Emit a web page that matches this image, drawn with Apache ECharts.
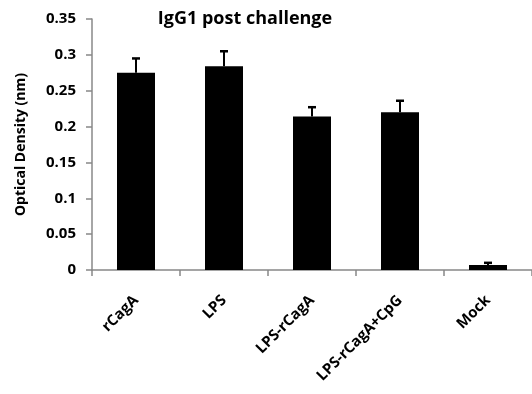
<!DOCTYPE html>
<html><head><meta charset="utf-8">
<script src="https://cdn.jsdelivr.net/npm/echarts@6/dist/echarts.min.js"></script>
<style>html,body{margin:0;padding:0;background:#fff}#c{width:532px;height:394px}</style>
</head><body><div id="c"></div>
<script>
var categories = ['rCagA', 'LPS', 'LPS-rCagA', 'LPS-rCagA+CpG', 'Mock'];
var values = [0.275, 0.284, 0.214, 0.220, 0.007];
var errorTops = [0.295, 0.305, 0.227, 0.236, 0.010];
var yTicks = [0, 0.05, 0.1, 0.15, 0.2, 0.25, 0.3, 0.35];

var chart = echarts.init(document.getElementById('c'));
var fontFam = '"Open Sans", "Liberation Sans", sans-serif';
chart.setOption({
  animation: false,
  title: {
    text: 'IgG1 post challenge', left: 240, top: 5, textAlign: 'center',
    textStyle: {fontFamily: fontFam, fontWeight: 'bold', fontSize: 18, color: '#000'}
  },
  grid: {left: 92, right: -3, top: 19, bottom: 124, containLabel: false},
  xAxis: {
    type: 'category', data: categories,
    axisLine: {lineStyle: {color: '#888', width: 1.5}},
    axisTick: {show: true, length: 6, lineStyle: {color: '#888', width: 1.5}},
    axisLabel: {rotate: 45, margin: 28, fontFamily: fontFam, fontSize: 15, color: '#000', fontWeight: 'bold'}
  },
  yAxis: {
    type: 'value', min: 0, max: 0.35, interval: 0.05,
    name: 'Optical Density (nm)', nameLocation: 'middle', nameGap: 64,
    nameTextStyle: {fontFamily: fontFam, fontWeight: 'bold', fontSize: 14, color: '#000'},
    axisLine: {show: true, lineStyle: {color: '#888', width: 1.5}},
    axisTick: {show: true, length: 6, lineStyle: {color: '#888', width: 1.5}},
    splitLine: {show: false},
    axisLabel: {margin: 16, fontFamily: fontFam, fontWeight: 'bold', fontSize: 15, color: '#000',
      formatter: function(v){ return String(parseFloat(v.toFixed(2))); }}
  },
  series: [
    {type: 'bar', data: values, barWidth: 38, itemStyle: {color: '#000'}},
    {type: 'custom', data: values.map(function(v, i){ return [i, v, errorTops[i]]; }),
     renderItem: function(params, api){
       var lo = api.coord([api.value(0), api.value(1)]);
       var hi = api.coord([api.value(0), api.value(2)]);
       var hw = 4;
       return {type: 'group', children: [
         {type: 'line', shape: {x1: lo[0], y1: lo[1], x2: hi[0], y2: hi[1]}, style: {stroke: '#000', lineWidth: 2}},
         {type: 'line', shape: {x1: hi[0]-hw, y1: hi[1], x2: hi[0]+hw, y2: hi[1]}, style: {stroke: '#000', lineWidth: 2.5}}
       ]};
     }, z: 3}
  ]
});
</script></body></html>
